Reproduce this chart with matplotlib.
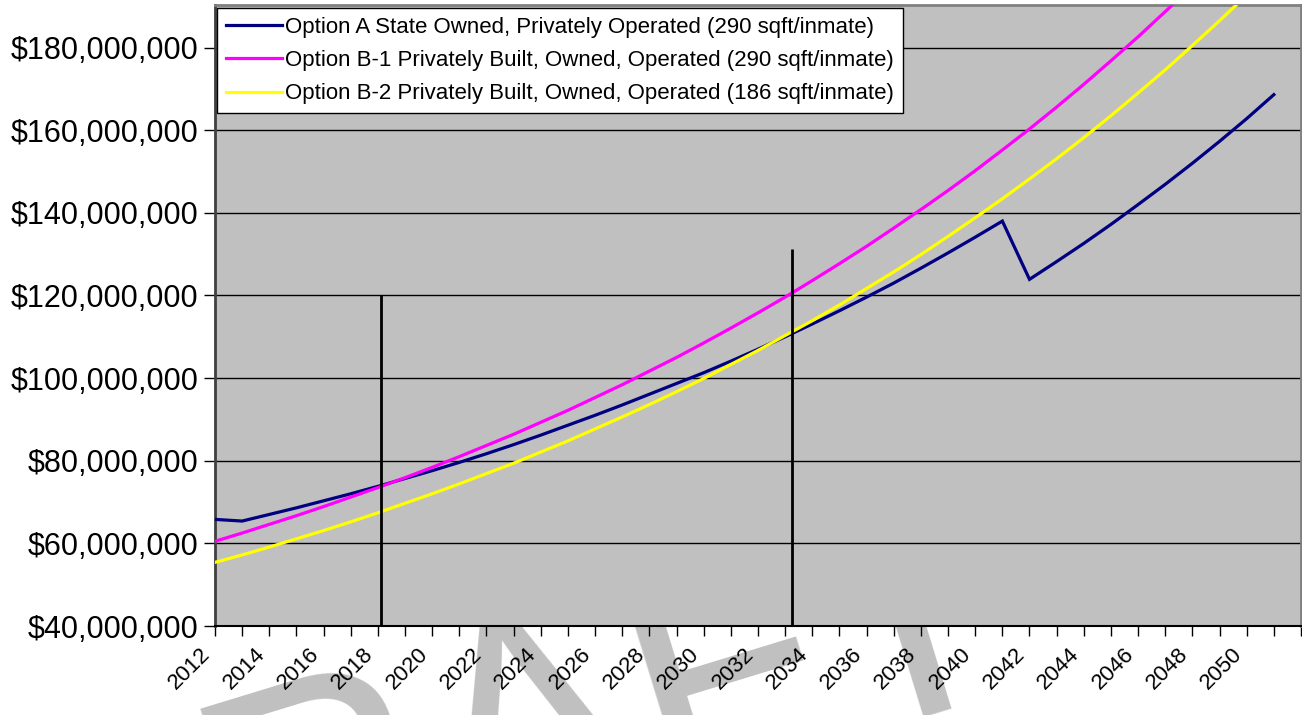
import matplotlib
matplotlib.use("Agg")
import matplotlib.pyplot as plt
from matplotlib.ticker import FixedLocator, FuncFormatter

plt.rcParams['font.family'] = ['Liberation Sans', 'DejaVu Sans']

# ---------------- data ----------------
years = list(range(2012, 2052))

option_a = [65.8, 65.4, 67.0, 68.6, 70.3, 72.0, 73.8, 75.7, 77.6, 79.6,
            81.7, 83.9, 86.2, 88.6, 91.0, 93.5, 96.1, 98.7, 101.3, 104.1,
            107.0, 110.0, 113.1, 116.3, 119.6, 123.0, 126.6, 130.3, 134.1, 138.0,
            123.9, 128.2, 132.6, 137.2, 142.0, 146.9, 152.0, 157.3, 162.8, 168.6]

option_b1 = [60.5, 62.5, 64.6, 66.7, 68.9, 71.2, 73.5, 75.9, 78.4, 81.0,
             83.7, 86.4, 89.3, 92.2, 95.3, 98.4, 101.7, 105.0, 108.5, 112.1,
             115.8, 119.6, 123.6, 127.7, 131.9, 136.3, 140.8, 145.4, 150.2, 155.2,
             160.3, 165.6, 171.1, 176.8, 182.6, 188.7, 194.9, 201.4, 208.0, 214.9]

option_b2 = [55.4, 57.2, 59.1, 61.1, 63.1, 65.2, 67.4, 69.7, 72.0, 74.4,
             76.9, 79.4, 82.1, 84.8, 87.7, 90.6, 93.6, 96.7, 99.9, 103.3,
             106.7, 110.3, 113.9, 117.7, 121.7, 125.7, 129.9, 134.3, 138.8, 143.4,
             148.2, 153.1, 158.2, 163.5, 169.0, 174.6, 180.5, 186.5, 192.7, 199.2]

series_labels = ["Option A State Owned, Privately Operated (290 sqft/inmate)",
                 "Option B-1 Privately Built, Owned, Operated (290 sqft/inmate)",
                 "Option B-2 Privately Built, Owned, Operated (186 sqft/inmate)"]
series_colors = ["#000080", "#FF00FF", "#FFFF00"]

marker_years = [2018.1, 2033.25]      # vertical reference lines
marker_tops = [120.0, 131.3]          # in $ millions

y_ticks = [40, 60, 80, 100, 120, 140, 160, 180]   # $ millions
x_tick_years = list(range(2012, 2053))
x_label_years = list(range(2012, 2051, 2))

watermark = "DRAFT"

# ---------------- figure ----------------
W, H = 1302, 715
fig = plt.figure(figsize=(W / 100, H / 100), dpi=100)
fig.patch.set_facecolor('white')

# watermark (mostly hidden behind the plot area)
fig.text(20 / W, 1 - 985 / H, watermark, fontsize=228, rotation=17,
         rotation_mode='anchor', ha='left', va='baseline',
         color='#C0C0C0', zorder=-1)

left, right, top, bottom = 215, 1301, 5, 626
ax = fig.add_axes([left / W, 1 - bottom / H, (right - left) / W, (bottom - top) / H])
ax.set_facecolor('#C0C0C0')

M = 1e6
for vals, lab, col in zip([option_a, option_b1, option_b2], series_labels, series_colors):
    ax.plot(years, [v * M for v in vals], color=col, lw=2.3, label=lab,
            solid_joinstyle='miter', zorder=3)

ax.vlines(marker_years, y_ticks[0] * M, [t * M for t in marker_tops],
          color='black', lw=2, zorder=4)

ax.set_xlim(2012, 2052)
ax.set_ylim(40 * M, 190.3 * M)

ax.yaxis.set_major_locator(FixedLocator([t * M for t in y_ticks]))
ax.yaxis.set_major_formatter(FuncFormatter(lambda v, p: "${:,.0f}".format(v)))
ax.yaxis.grid(True, color='black', lw=1)
ax.set_axisbelow(True)

ax.xaxis.set_major_locator(FixedLocator(x_tick_years))
ax.xaxis.set_major_formatter(FuncFormatter(
    lambda v, p: str(int(round(v))) if int(round(v)) in x_label_years else ""))

ax.tick_params(axis='y', direction='out', length=8, width=1, color='black',
               labelsize=22, pad=4)
ax.tick_params(axis='x', direction='out', length=7, width=1, color='black',
               labelsize=16, pad=6)
for lbl in ax.get_xticklabels():
    lbl.set_rotation(45)
    lbl.set_ha('right')
    lbl.set_va('top')

ax.spines['left'].set_color('#404040')
ax.spines['left'].set_linewidth(2)
ax.spines['bottom'].set_color('black')
ax.spines['bottom'].set_linewidth(1.5)
for s in ['top', 'right']:
    ax.spines[s].set_color('#808080')
    ax.spines[s].set_linewidth(2)

leg = ax.legend(loc='upper left', bbox_to_anchor=(0.002, 0.995), fontsize=16,
                frameon=True, fancybox=False, framealpha=1, edgecolor='black',
                handlelength=2.5, handletextpad=0.15, borderpad=0.4,
                labelspacing=0.55, borderaxespad=0)
leg.get_frame().set_linewidth(1)
leg.set_zorder(5)

fig.savefig("out.png", dpi=100)
